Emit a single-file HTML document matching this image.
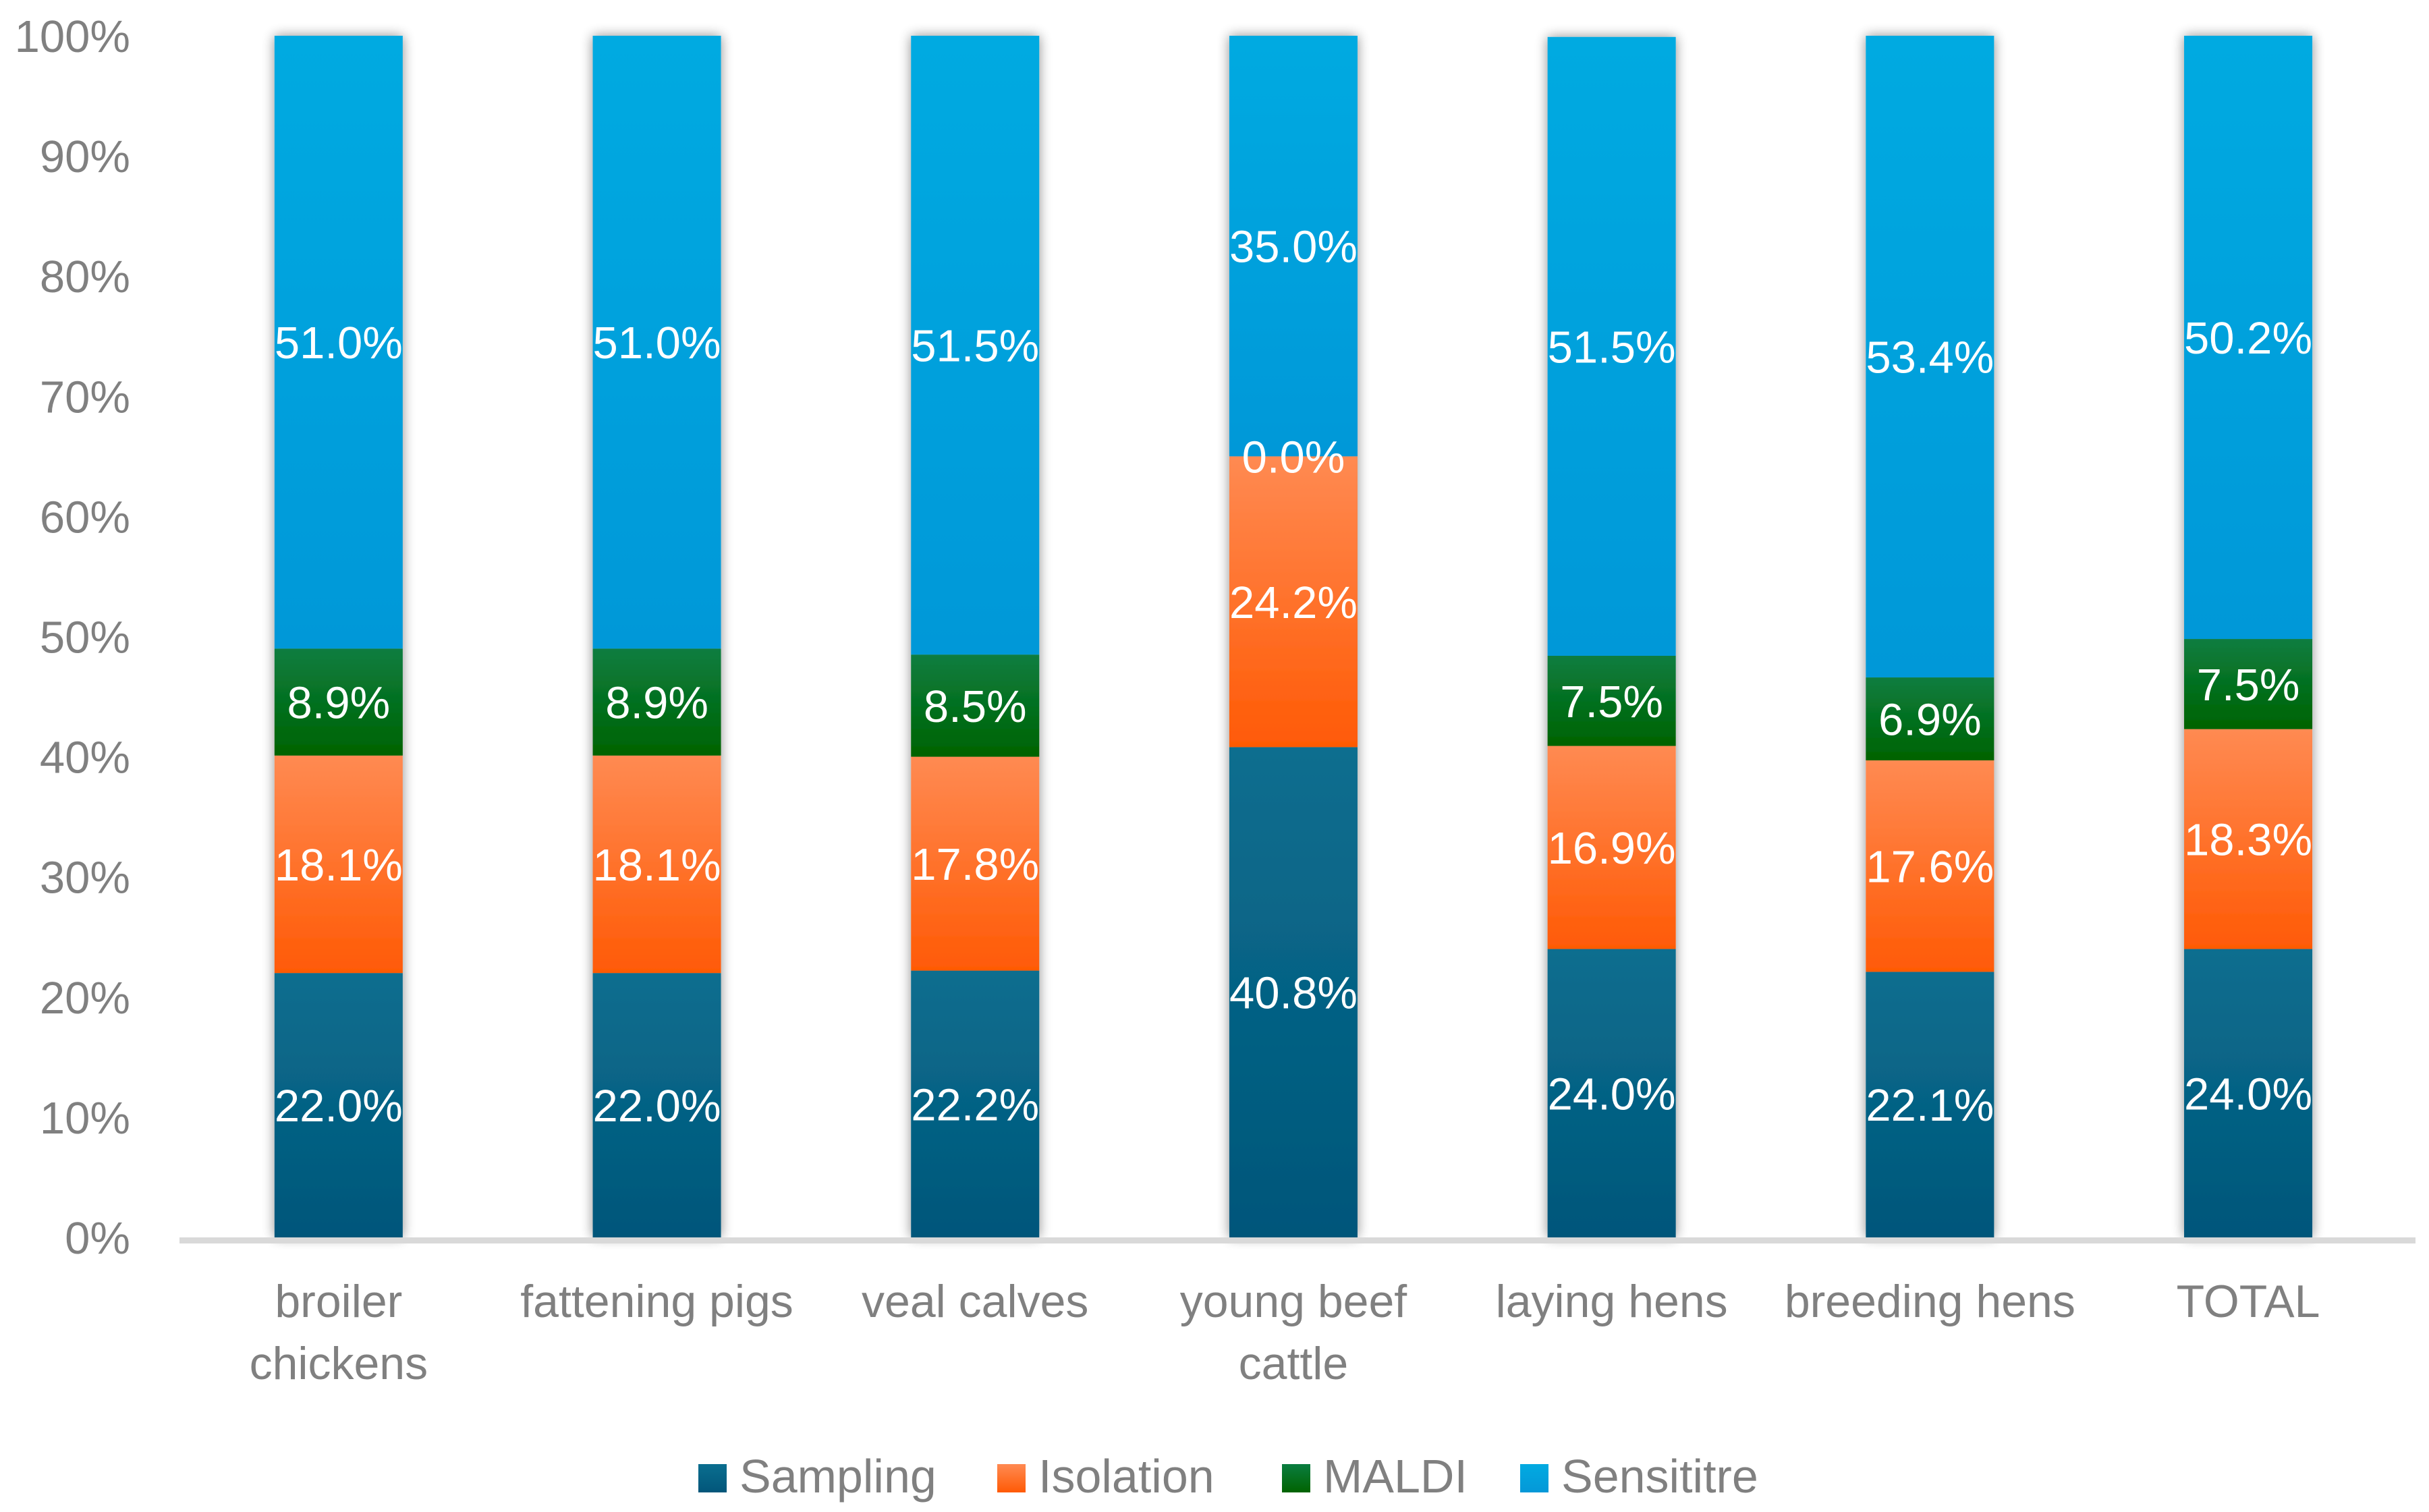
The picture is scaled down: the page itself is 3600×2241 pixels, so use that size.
<!DOCTYPE html>
<html><head><meta charset="utf-8"><style>
html,body{margin:0;padding:0;background:#fff}
svg{display:block}
text{font-family:"Liberation Sans",sans-serif}
</style></head><body>
<svg id="chart" width="3600" height="2241" viewBox="0 0 3600 2241" xmlns="http://www.w3.org/2000/svg">
<defs>
<linearGradient id="g0" x1="0" y1="0" x2="0" y2="1"><stop offset="0" stop-color="#0a6e8f"/><stop offset="1" stop-color="#02567a"/></linearGradient>
<linearGradient id="g1" x1="0" y1="0" x2="0" y2="1"><stop offset="0" stop-color="#ff8a52"/><stop offset="1" stop-color="#ff5a05"/></linearGradient>
<linearGradient id="g2" x1="0" y1="0" x2="0" y2="1"><stop offset="0" stop-color="#0a7d40"/><stop offset="1" stop-color="#016300"/></linearGradient>
<linearGradient id="g3" x1="0" y1="0" x2="0" y2="1"><stop offset="0" stop-color="#02aae1"/><stop offset="1" stop-color="#0498d8"/></linearGradient>
<filter id="sh" x="-30%" y="-5%" width="160%" height="110%"><feGaussianBlur in="SourceAlpha" stdDeviation="9"/><feOffset dx="0" dy="0"/><feComponentTransfer><feFuncA type="linear" slope="0.45"/></feComponentTransfer><feMerge><feMergeNode/><feMergeNode in="SourceGraphic"/></feMerge></filter>
</defs>
<g id="yaxis"></g>
<g id="bars"></g>
<rect x="266" y="1834" width="3314" height="9" fill="#d9d9d9"/>
<g id="xaxis"></g>
<g id="legend"></g>
</svg>
<script>
const categories = [["broiler","chickens"],["fattening pigs"],["veal calves"],["young beef","cattle"],["laying hens"],["breeding hens"],["TOTAL"]];
const seriesNames = ["Sampling","Isolation","MALDI","Sensititre"];
const sampling = [22.0,22.0,22.2,40.8,24.0,22.1,24.0];
const isolation = [18.1,18.1,17.8,24.2,16.9,17.6,18.3];
const maldi = [8.9,8.9,8.5,0.0,7.5,6.9,7.5];
const sensititre = [51.0,51.0,51.5,35.0,51.5,53.4,50.2];
const yTicks = [0,10,20,30,40,50,60,70,80,90,100];

const NS="http://www.w3.org/2000/svg";
const X0=266, BAND=471.7, Y0=1834, Y100=53, BW=190;
const series=[sampling,isolation,maldi,sensititre];
const xC=i=>X0+BAND*(i+0.5);
const y=v=>Y0-(Y0-Y100)*v/100;
function mk(tag,attrs,parent){const e=document.createElementNS(NS,tag);for(const k in attrs)e.setAttribute(k,attrs[k]);parent.appendChild(e);return e;}

const ya=document.getElementById('yaxis');
yTicks.forEach(t=>{
  const e=mk('text',{x:193,y:y(t)+24,'text-anchor':'end','font-size':67,fill:'#808080'},ya);
  e.textContent=t+'%';
  
  
});

const bars=document.getElementById('bars');
categories.forEach((c,i)=>{
  const g=mk('g',{filter:'url(#sh)'},bars);
  
  
  let cum=0;
  series.forEach((s,k)=>{
    const v=s[i];
    const r=mk('rect',{x:xC(i)-BW/2,y:y(cum+v),width:BW,height:Math.max(0,y(cum)-y(cum+v)),fill:'url(#g'+k+')'},g);
    
    
    cum+=v;
  });
});
categories.forEach((c,i)=>{
  let cum=0;
  series.forEach((s,k)=>{
    const v=s[i];
    const t=mk('text',{x:xC(i),y:y(cum+v/2)+24,'text-anchor':'middle','font-size':67,fill:'#ffffff'},bars);
    t.textContent=v.toFixed(1)+'%';
    
    
    cum+=v;
  });
});

const xa=document.getElementById('xaxis');
categories.forEach((c,i)=>{
  c.forEach((line,j)=>{
    const t=mk('text',{x:xC(i),y:1952+j*92,'text-anchor':'middle','font-size':68,fill:'#808080'},xa);
    t.textContent=line;
    
    
  });
});

const lg=document.getElementById('legend');
const lx=[1035,1478,1900,2253];
seriesNames.forEach((n,k)=>{
  const g=mk('g',{},lg);
  
  
  mk('rect',{x:lx[k],y:2170,width:42,height:42,fill:'url(#g'+k+')'},g);
  const t=mk('text',{x:lx[k]+61,y:2212,'font-size':70,fill:'#808080'},g);
  t.textContent=n;
});
</script>
</body></html>
